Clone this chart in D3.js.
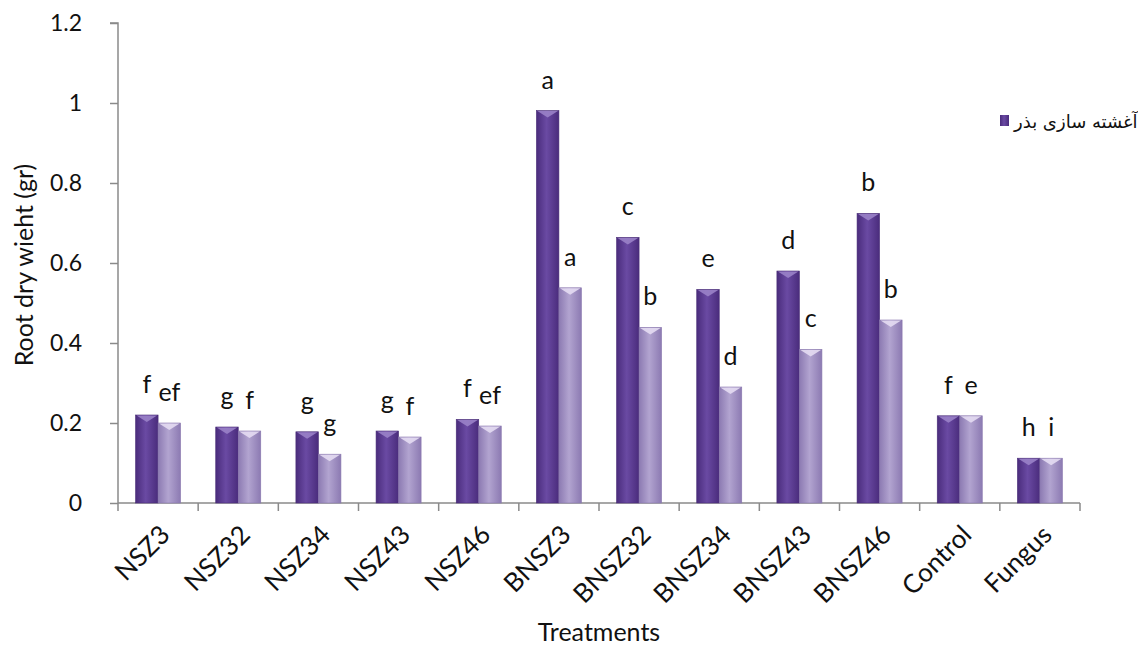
<!DOCTYPE html>
<html><head><meta charset="utf-8">
<script src="https://cdn.jsdelivr.net/npm/d3@7"></script>
<style>body{margin:0;background:#fff}svg{display:block}text{font-family:Lato,"Open Sans",sans-serif;fill:#111}</style>
</head><body><svg id="c" width="1138" height="657"></svg>
<script>
const categories = ["NSZ3","NSZ32","NSZ34","NSZ43","NSZ46","BNSZ3","BNSZ32","BNSZ34","BNSZ43","BNSZ46","Control","Fungus"];
const seriesNames = ["آغشته سازی بذر","series2"];
const seedCoating = [0.22,0.19,0.178,0.18,0.209,0.981,0.664,0.534,0.58,0.724,0.218,0.112];
const series2 = [0.20,0.18,0.122,0.165,0.1925,0.538,0.439,0.29,0.384,0.4575,0.218,0.112];
const lettersSeed = ["f","g","g","g","f","a","c","e","d","b","f","h"];
const letters2 = ["ef","f","g","f","ef","a","b","d","c","b","e","i"];
const yTicks = [0,0.2,0.4,0.6,0.8,1,1.2];

const svg = d3.select("#c");
const L=118, R=1080, T=23, B=503;
const x0 = d3.scaleBand().domain(categories).range([L,R]).padding(0);
const x1 = d3.scaleBand().domain([0,1]).range([0,x0.bandwidth()]).paddingInner(0).paddingOuter(0.78);
const y = d3.scaleLinear().domain([0,1.2]).range([B,T]);

const defs = svg.append("defs");
function grad(id, edge, mid){
  const g = defs.append("linearGradient").attr("id",id).attr("x1","0").attr("x2","1").attr("y1","0").attr("y2","0");
  g.append("stop").attr("offset","0").attr("stop-color",edge);
  g.append("stop").attr("offset","0.45").attr("stop-color",mid);
  g.append("stop").attr("offset","1").attr("stop-color",edge);
}
grad("gd","#4a2c7c","#6a4aa3");
grad("gl","#8c7ab2","#b2a4d0");

// axes
const yAxis = d3.axisLeft(y).tickValues(yTicks).tickSize(8).tickFormat(d=>d===0?"0":String(d));
const gy = svg.append("g").attr("transform",`translate(${L},0)`).call(yAxis);
gy.selectAll("path,line").attr("stroke","#8a8a8a").attr("stroke-width",1.5);
gy.select(".domain").attr("d",`M-8,${T}H0V${B}`);
gy.selectAll("text").attr("x",-36).style("font-size","23px").style("font-family","Lato,sans-serif").attr("fill","#111");

// x axis line and ticks at band boundaries
const bounds = categories.map(c=>x0(c)).concat([R]);
svg.append("line").attr("x1",L).attr("x2",R).attr("y1",B).attr("y2",B).attr("stroke","#8a8a8a").attr("stroke-width",1.5);
svg.selectAll(".xt").data(bounds).enter().append("line").attr("x1",d=>d).attr("x2",d=>d).attr("y1",B).attr("y2",B+8).attr("stroke","#8a8a8a").attr("stroke-width",1.5);

// bars
const data = categories.map((c,i)=>({c,vals:[seedCoating[i],series2[i]],lab:[lettersSeed[i],letters2[i]]}));
const bw = x1.bandwidth();
data.forEach(d=>{
  d.vals.forEach((v,k)=>{
    const bx = x0(d.c)+x1(k), by = y(v);
    svg.append("rect").attr("x",bx).attr("y",by).attr("width",bw).attr("height",B-by)
      .attr("fill",k===0?"url(#gd)":"url(#gl)").attr("stroke",k===0?"#4a2e78":"#8a78ae").attr("stroke-width",0.6);
    svg.append("polygon").attr("points",`${bx+1},${by+0.5} ${bx+bw-1},${by+0.5} ${bx+bw/2},${by+7}`)
      .attr("fill",k===0?"#9a82c8":"#e4dcf2").attr("opacity",0.9);
    svg.append("text").attr("x",bx+bw/2).attr("y",by-22).attr("text-anchor","middle")
      .style("font-size","25px").text(d.lab[k]);
  });
});

// x labels
svg.selectAll(".xl").data(categories).enter().append("text")
  .attr("transform",d=>`translate(${x0(d)+x0.bandwidth()/2+7},${B+27}) rotate(-45)`)
  .attr("text-anchor","end").attr("dy","0.35em").style("font-size","26px").text(d=>d);

// titles
svg.append("text").attr("transform",`translate(33,265) rotate(-90)`).attr("text-anchor","middle").style("font-size","25px").text("Root dry wieht (gr)");
svg.append("text").attr("x",599).attr("y",641).attr("text-anchor","middle").style("font-size","25px").text("Treatments");

// legend
svg.append("rect").attr("x",1000).attr("y",115).attr("width",9).attr("height",11).attr("fill","url(#gd)");
svg.append("text").attr("x",1014).attr("y",128).attr("direction","rtl").attr("text-anchor","end")
  .style("font-family","'DejaVu Sans',sans-serif").style("font-size","18px").text(seriesNames[0]);
</script></body></html>
